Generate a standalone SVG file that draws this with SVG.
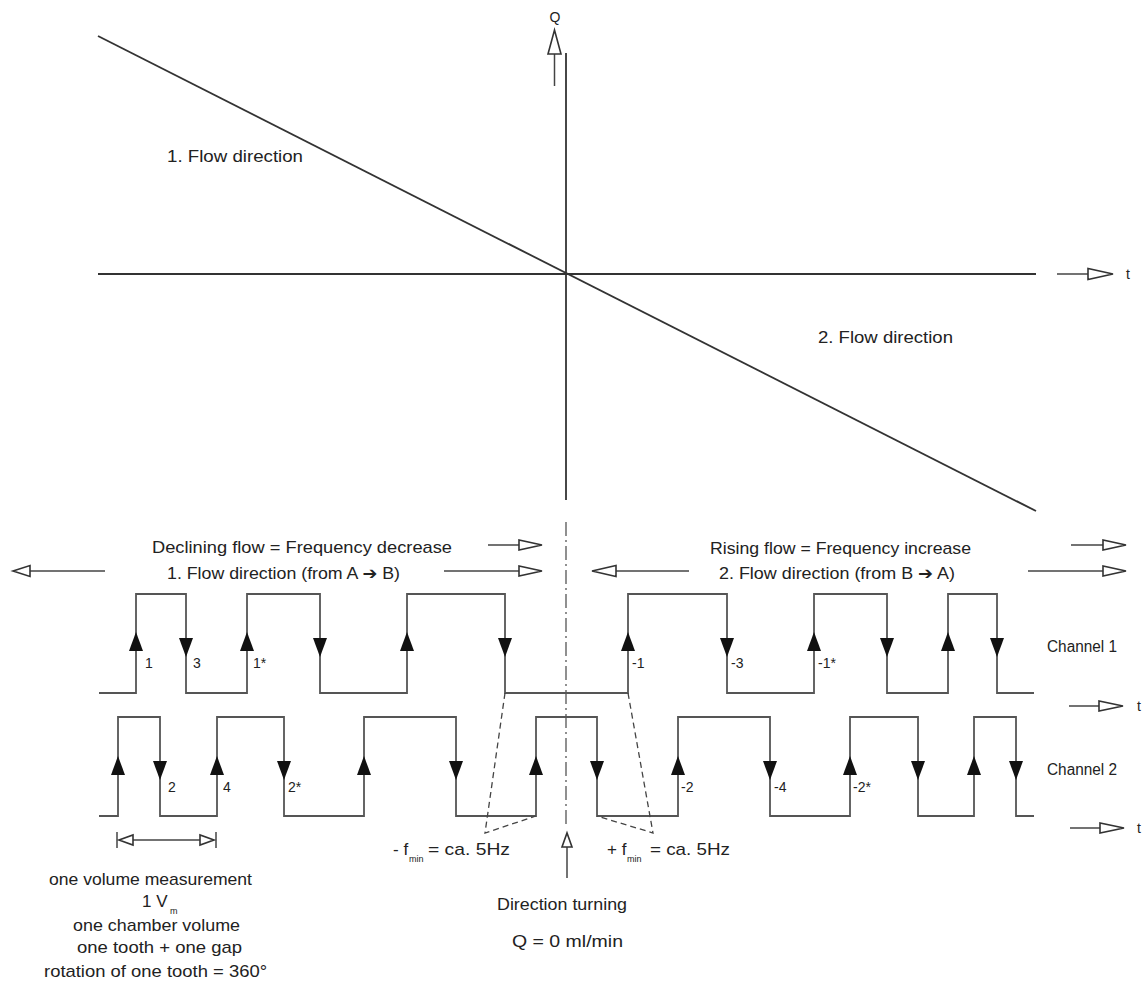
<svg xmlns="http://www.w3.org/2000/svg" xmlns:xlink="http://www.w3.org/1999/xlink" width="1147" height="992" viewBox="0 0 1147 992">
<style>
.ax{stroke:#333;stroke-width:1.8;fill:none}
.ln{stroke:#444;stroke-width:1.5;fill:none}
.sig{stroke:#555;stroke-width:1.8;fill:none}
.oh{fill:#fff;stroke:#333;stroke-width:1.6}
.fh{fill:#111}
.dash{stroke:#444;stroke-width:1.3;fill:none;stroke-dasharray:6 4}
.dd{stroke:#555;stroke-width:1.3;fill:none;stroke-dasharray:14 4 2 4}
text{font-family:"Liberation Sans","DejaVu Sans",Arial,sans-serif;fill:#222}
.t17{font-size:17px}
.t16{font-size:16px}
.t14{font-size:14px}
.sub{font-size:9px}
.mid{text-anchor:middle}
</style>
<defs>
<path id="up" d="M0,0 L-7,19 L7,19 Z"/>
<path id="dn" d="M-7,0 L7,0 L0,19 Z"/>
</defs>

<g id="chart-axes">
<line class="ax" x1="566" y1="53" x2="566" y2="500"/>
<line class="ax" x1="98" y1="274" x2="1036" y2="274"/>
<line class="ax" x1="98" y1="36" x2="1036" y2="511"/>
</g>

<g id="q-axis-arrow">
<line class="ln" x1="554.5" y1="86" x2="554.5" y2="54"/>
<polygon class="oh" points="548,54 561,54 554.5,30"/>
<text class="t14 mid" x="555" y="22">Q</text>
</g>

<g id="t-axis-arrow">
<line class="ln" x1="1057" y1="274" x2="1088" y2="274"/>
<polygon class="oh" points="1088,268.5 1088,279.5 1113,274"/>
<text class="t14" x="1126" y="279">t</text>
</g>

<g id="label-flow1"><text class="t17" x="167" y="162" textLength="136" lengthAdjust="spacingAndGlyphs">1. Flow direction</text></g>
<g id="label-flow2"><text class="t17" x="818" y="343" textLength="135" lengthAdjust="spacingAndGlyphs">2. Flow direction</text></g>

<g id="header-left">
<text class="t17" x="152" y="553" textLength="300" lengthAdjust="spacingAndGlyphs">Declining flow = Frequency decrease</text>
<text class="t17" x="167" y="579" textLength="233" lengthAdjust="spacingAndGlyphs">1. Flow direction (from A ➔ B)</text>
</g>
<g id="header-right">
<text class="t17" x="710" y="554" textLength="261" lengthAdjust="spacingAndGlyphs">Rising flow = Frequency increase</text>
<text class="t17" x="719" y="579" textLength="236" lengthAdjust="spacingAndGlyphs">2. Flow direction (from B ➔ A)</text>
</g>

<g id="header-arrows">
<line class="ln" x1="30" y1="571" x2="105" y2="571"/>
<polygon class="oh" points="30,565.5 30,576.5 13,571"/>
<line class="ln" x1="488" y1="545" x2="519" y2="545"/>
<polygon class="oh" points="519,540 519,550 542,545"/>
<line class="ln" x1="444" y1="571" x2="519" y2="571"/>
<polygon class="oh" points="519,566 519,576 542,571"/>
<line class="ln" x1="616" y1="571" x2="689" y2="571"/>
<polygon class="oh" points="616,565.5 616,576.5 592,571"/>
<line class="ln" x1="1071" y1="545" x2="1103" y2="545"/>
<polygon class="oh" points="1103,540 1103,550 1126,545"/>
<line class="ln" x1="1028" y1="571" x2="1103" y2="571"/>
<polygon class="oh" points="1103,566 1103,576 1126,571"/>
</g>

<g id="turning-line">
<line class="dd" x1="566" y1="522" x2="566" y2="828"/>
</g>

<g id="channel1">
<path class="sig" d="M99,693 H136 V594 H186 V693 H247 V594 H320 V693 H407 V594 H505 V693 H628 V594 H727 V693 H814 V594 H887 V693 H948 V594 H997 V693 H1034"/>
<g class="fh">
<use xlink:href="#up" x="136" y="632"/><use xlink:href="#dn" x="186" y="638"/>
<use xlink:href="#up" x="247" y="632"/><use xlink:href="#dn" x="320" y="638"/>
<use xlink:href="#up" x="407" y="632"/><use xlink:href="#dn" x="505" y="638"/>
<use xlink:href="#up" x="628" y="632"/><use xlink:href="#dn" x="727" y="638"/>
<use xlink:href="#up" x="814" y="632"/><use xlink:href="#dn" x="887" y="638"/>
<use xlink:href="#up" x="948" y="632"/><use xlink:href="#dn" x="997" y="638"/>
</g>
<g class="t14">
<text x="145" y="668">1</text><text x="193" y="668">3</text><text x="253" y="668">1*</text>
<text x="632" y="668">-1</text><text x="731" y="668">-3</text><text x="818" y="668">-1*</text>
</g>
<text class="t16" x="1047" y="652" textLength="70" lengthAdjust="spacingAndGlyphs">Channel 1</text>
<line class="ln" x1="1069" y1="706" x2="1099" y2="706"/>
<polygon class="oh" points="1099,701 1099,711 1123,706"/>
<text class="t14" x="1137" y="711">t</text>
</g>

<g id="channel2">
<path class="sig" d="M99,816 H118 V717 H160 V816 H217 V717 H284 V816 H364 V717 H456 V816 H536 V717 H597 V816 H678 V717 H770 V816 H850 V717 H918 V816 H974 V717 H1016 V816 H1034"/>
<g class="fh">
<use xlink:href="#up" x="118" y="756"/><use xlink:href="#dn" x="160" y="761"/>
<use xlink:href="#up" x="217" y="756"/><use xlink:href="#dn" x="284" y="761"/>
<use xlink:href="#up" x="364" y="756"/><use xlink:href="#dn" x="456" y="761"/>
<use xlink:href="#up" x="536" y="756"/><use xlink:href="#dn" x="597" y="761"/>
<use xlink:href="#up" x="678" y="756"/><use xlink:href="#dn" x="770" y="761"/>
<use xlink:href="#up" x="850" y="756"/><use xlink:href="#dn" x="918" y="761"/>
<use xlink:href="#up" x="974" y="756"/><use xlink:href="#dn" x="1016" y="761"/>
</g>
<g class="t14">
<text x="168" y="792">2</text><text x="223" y="792">4</text><text x="288" y="792">2*</text>
<text x="681" y="792">-2</text><text x="774" y="792">-4</text><text x="853" y="792">-2*</text>
</g>
<text class="t16" x="1047" y="775" textLength="70" lengthAdjust="spacingAndGlyphs">Channel 2</text>
<line class="ln" x1="1070" y1="828" x2="1100" y2="828"/>
<polygon class="oh" points="1100,823 1100,833 1124,828"/>
<text class="t14" x="1137" y="833">t</text>
</g>

<g id="fmin-left">
<path class="dash" d="M505,693 L485,833 L536,816"/>
<text class="t17" x="393" y="855">- f<tspan class="sub" x="409" y="862">min</tspan><tspan x="428" y="855" textLength="82" lengthAdjust="spacingAndGlyphs">= ca. 5Hz</tspan></text>
</g>
<g id="fmin-right">
<path class="dash" d="M628,693 L653,833 L597,816"/>
<text class="t17" x="607" y="855">+ f<tspan class="sub" x="627" y="862">min</tspan><tspan x="650" y="855" textLength="80" lengthAdjust="spacingAndGlyphs">= ca. 5Hz</tspan></text>
</g>

<g id="direction-turning">
<line class="ln" x1="567" y1="847" x2="567" y2="878"/>
<polygon class="oh" points="562,847 572,847 567,833"/>
<text class="t17" x="497" y="910" textLength="130" lengthAdjust="spacingAndGlyphs">Direction turning</text>
<text class="t17" x="512" y="947" textLength="111" lengthAdjust="spacingAndGlyphs">Q = 0 ml/min</text>
</g>

<g id="volume-measurement">
<line class="ln" x1="117" y1="832" x2="117" y2="848"/>
<line class="ln" x1="216" y1="832" x2="216" y2="848"/>
<line class="ln" x1="133" y1="840" x2="200" y2="840"/>
<polygon class="oh" points="133,835 133,845 119,840"/>
<polygon class="oh" points="200,835 200,845 214,840"/>
<g class="t17">
<text x="49" y="885" textLength="203" lengthAdjust="spacingAndGlyphs">one volume measurement</text>
<text x="142" y="907">1 V<tspan class="sub" x="170" y="914">m</tspan></text>
<text x="73" y="931" textLength="167" lengthAdjust="spacingAndGlyphs">one chamber volume</text>
<text x="77" y="953" textLength="165" lengthAdjust="spacingAndGlyphs">one tooth + one gap</text>
<text x="44" y="977" textLength="223" lengthAdjust="spacingAndGlyphs">rotation of one tooth = 360°</text>
</g>
</g>
</svg>
